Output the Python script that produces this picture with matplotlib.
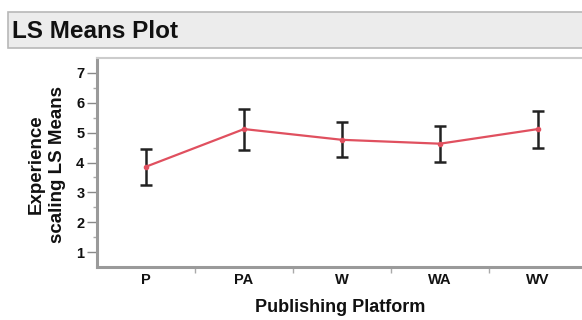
import numpy as np
import matplotlib.pyplot as plt
from matplotlib.patches import Rectangle

plt.rcParams['font.family'] = ['Liberation Sans', 'DejaVu Sans']

# least-squares means with their error bar ends
platforms = ['P', 'PA', 'W', 'WA', 'WV']
ls_means = [3.86, 5.12, 4.76, 4.63, 5.12]
upper = [4.46, 5.78, 5.36, 5.21, 5.72]
lower = [3.25, 4.43, 4.17, 4.02, 4.50]

fig = plt.figure(figsize=(5.82, 3.2), dpi=100)

# gray title strip across the top
fig.patches.append(Rectangle((8 / 582, 1 - 48 / 320), 1.0, 36 / 320,
                             transform=fig.transFigure, facecolor='#ececec',
                             edgecolor='#b8b8b8', linewidth=1.2, zorder=0))
fig.text(12 / 582, 1 - 31 / 320, 'LS Means Plot', fontsize=17.5, fontweight='bold',
         va='center', ha='left', color='#111111')

ax = fig.add_axes([97 / 582, 53 / 320, 490 / 582, 209 / 320])

x = np.arange(len(platforms))
means = np.array(ls_means)
yerr = [means - np.array(lower), np.array(upper) - means]

ax.plot(x, means, color='#e0505f', linewidth=1.6, marker='o', markersize=3, zorder=3)
ax.errorbar(x, means, yerr=yerr, fmt='none', ecolor='#222222', elinewidth=1.8,
            capsize=4, capthick=1.8, zorder=2)

ax.set_xlim(-0.5, len(platforms) - 0.5)
ax.set_ylim(0.5, 7.5)
ax.set_yticks(range(1, 8))
ax.set_yticks(np.arange(1.5, 7.5, 1.0), minor=True)
ax.set_xticks(x)
ax.set_xticklabels(platforms)
ax.set_xticks(np.arange(0.5, len(platforms) - 0.5, 1.0), minor=True)

for lbl in ax.get_xticklabels() + ax.get_yticklabels():
    lbl.set_fontweight('bold')
    lbl.set_fontsize(10.5)
    lbl.set_color('#111111')

ax.tick_params(axis='y', which='major', length=7, width=1, color='#888888', pad=2)
ax.tick_params(axis='y', which='minor', length=3, width=1, color='#aaaaaa')
ax.tick_params(axis='x', which='major', length=0, pad=4)
ax.tick_params(axis='x', which='minor', length=4, width=1, color='#aaaaaa')

for side in ['left', 'bottom']:
    ax.spines[side].set_color('#9a9a9a')
    ax.spines[side].set_linewidth(2.2)
ax.spines['top'].set_color('#cccccc')
ax.spines['top'].set_linewidth(1.5)
ax.spines['right'].set_visible(False)

ax.set_ylabel('Experience\nscaling LS Means', fontsize=13.5, fontweight='bold',
              linespacing=1.3, color='#111111')
ax.yaxis.set_label_coords(-0.063, 0.49)
ax.set_xlabel('Publishing Platform', fontsize=13, fontweight='bold', color='#111111')
ax.xaxis.set_label_coords(243 / 490, -0.155)

fig.savefig('out.png', dpi=100)
